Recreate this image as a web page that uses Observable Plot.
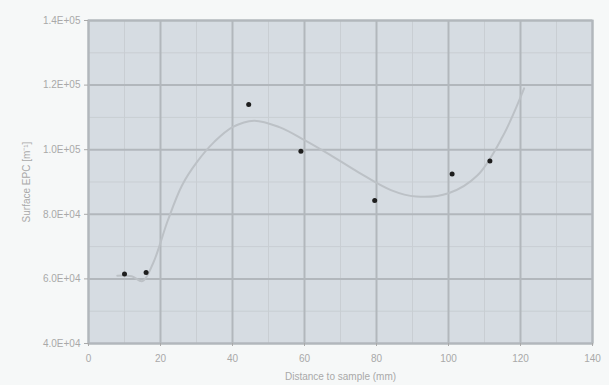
<!DOCTYPE html>
<html>
<head>
<meta charset="utf-8">
<script src="https://cdn.jsdelivr.net/npm/d3@7"></script>
<script src="https://cdn.jsdelivr.net/npm/@observablehq/plot@0.6"></script>
<style>
  html, body { margin: 0; padding: 0; background: #f6f8f8; }
  #chart { width: 609px; height: 385px; }
</style>
</head>
<body>
<div id="chart"></div>
<script>
// Smooth grey curve
const curveX = [8, 12, 15, 18, 22, 26, 30, 35, 40, 46, 53, 60, 67, 75, 84, 91, 100, 108, 115, 121];
const curveY = [61000, 60800, 59300, 65000, 78000, 89000, 96000, 102500, 107000, 109000, 107000, 103000, 98500, 93000, 87500, 85500, 86500, 92000, 104000, 119000];

// Measured points (dark markers)
const pointX = [10, 16, 44.5, 59, 79.5, 101, 111.5];
const pointY = [61500, 62000, 114000, 99500, 84300, 92500, 96500];

// Axis ticks and labels
const xTicks = [0, 20, 40, 60, 80, 100, 120, 140];
const yTicks = [40000, 60000, 80000, 100000, 120000, 140000];
const yTickLabels = ["4.0E+04", "6.0E+04", "8.0E+04", "1.0E+05", "1.2E+05", "1.4E+05"];
const xMinor = [10, 30, 50, 70, 90, 110, 130];
const yMinor = [50000, 70000, 90000, 110000, 130000];

const xTitle = "Distance to sample (mm)";
const yTitle = "Surface EPC [m\u207B\u00B9]";

const curve = curveX.map((x, i) => ({x, y: curveY[i]}));
const points = pointX.map((x, i) => ({x, y: pointY[i]}));

const chart = Plot.plot({
  width: 609,
  height: 385,
  marginLeft: 88,
  marginRight: 17,
  marginTop: 20,
  marginBottom: 42,
  style: {background: "#f6f8f8", fontFamily: "'Liberation Sans', Arial, sans-serif", fontSize: "10px"},
  x: {domain: [0, 140]},
  y: {domain: [40000, 140000]},
  marks: [
    Plot.frame({fill: "#d6dce2", stroke: null}),
    Plot.gridX(xMinor, {stroke: "#c9ced3", strokeOpacity: 1, strokeWidth: 1}),
    Plot.gridY(yMinor, {stroke: "#c9ced3", strokeOpacity: 1, strokeWidth: 1}),
    Plot.gridX(xTicks, {stroke: "#b2b7bc", strokeOpacity: 1, strokeWidth: 2}),
    Plot.gridY(yTicks, {stroke: "#b2b7bc", strokeOpacity: 1, strokeWidth: 2}),
    Plot.frame({stroke: "#b2b7bc", strokeWidth: 2}),
    Plot.line(curve, {x: "x", y: "y", curve: "catmull-rom", stroke: "#bcc1c6", strokeWidth: 2}),
    Plot.dot(points, {x: "x", y: "y", r: 2.5, fill: "#1e1e1e", stroke: null}),
    Plot.axisX(xTicks, {
      color: "#a9a9a9", tickSize: 3, tickPadding: 8,
      label: xTitle, labelAnchor: "center", labelOffset: 36, labelArrow: false
    }),
    Plot.axisY(yTicks, {
      color: "#a9a9a9", tickSize: 4, tickPadding: 4,
      tickFormat: (d) => yTickLabels[yTicks.indexOf(d)],
      label: yTitle, labelAnchor: "center", labelOffset: 66, labelArrow: false
    })
  ]
});
document.getElementById("chart").appendChild(chart);
</script>
</body>
</html>
